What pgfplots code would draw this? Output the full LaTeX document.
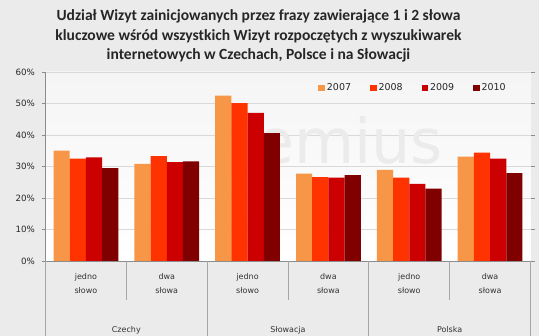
\documentclass[border=0pt]{standalone}
\usepackage{pgfplots}
\pgfplotsset{compat=1.18}
\usepackage{fontspec}
\setmainfont{Carlito}
\newfontfamily\tah{DejaVu Sans}
\definecolor{outerbg}{HTML}{EBEBEB}
\definecolor{gridc}{HTML}{D9D9D9}
\definecolor{axc}{HTML}{8C8C8C}
\definecolor{sepc}{HTML}{A6A6A6}
\definecolor{cA}{HTML}{F79646}
\definecolor{cB}{HTML}{FF3300}
\definecolor{cC}{HTML}{CC0000}
\definecolor{cD}{HTML}{800000}
\definecolor{wm}{HTML}{EBEBEB}
\pgfplotstableread{
x y2007 y2008 y2009 y2010
0 35.0 32.5 32.9 29.5
1 30.8 33.3 31.4 31.6
2 52.5 50.1 47.0 40.6
3 27.7 26.6 26.5 27.3
4 28.9 26.5 24.5 23.0
5 33.1 34.4 32.5 27.9
}\datatab
\begin{document}
\begin{tikzpicture}
\useasboundingbox (0,0) rectangle (539bp,336bp);
\fill[outerbg] (0,0) rectangle (539bp,336bp);
\node[align=center, font=\bfseries\fontsize{15.6}{19.6}\selectfont, text=black!85] at (258.5bp,300bp)
 {Udział Wizyt zainicjowanych przez frazy zawierające 1 i 2 słowa\\
  kluczowe wśród wszystkich Wizyt rozpoczętych z wyszukiwarek\\
  internetowych w Czechach, Polsce i na Słowacji};
\begin{axis}[
  at={(45.5bp,75bp)}, anchor=south west,
  scale only axis, width=485bp, height=189bp,
  xmin=-0.5, xmax=5.5, ymin=0, ymax=60,
  ybar=0pt, bar width=16.2bp,
  axis background/.style={top color=white!96!black, bottom color=white},
  axis line style={draw=none},
  ytick={0,10,...,60},
  yticklabel={\pgfmathprintnumber{\tick}\%},
  /pgf/number format/assume math mode=true,
  yticklabel style={font=\tah\fontsize{8.7}{10}\selectfont, text=black!85, xshift=-3bp},
  tick align=outside, major tick length=4bp,
  ytick style={draw=axc, line width=0.8bp},
  ymajorgrids, major grid style={draw=gridc, line width=0.9bp},
  xtick={0,...,5}, xtick style={draw=none},
  xticklabels={{jedno\\słowo},{dwa\\słowa},{jedno\\słowo},{dwa\\słowa},{jedno\\słowo},{dwa\\słowa}},
  xticklabel style={align=center, font=\tah\fontsize{8}{14}\selectfont, text=black!80, yshift=-5bp},
  clip=false,
  legend columns=4,
  legend style={at={(0.758,0.915)}, anchor=center, draw=none, fill=none,
    font=\tah\fontsize{9.5}{10}\selectfont, text=black!85,
    /tikz/every even column/.append style={column sep=17bp},
    inner sep=0pt},
  legend image code/.code={\fill[#1] (0bp,-3bp) rectangle (6.5bp,3.5bp);},
]
\node[font=\tah\fontsize{62}{62}\selectfont, text=wm] at (axis cs:3.02,36.5) {gemius};
\addplot[fill=cA, draw=none] table[x=x,y=y2007] {\datatab};
\addplot[fill=cB, draw=none] table[x=x,y=y2008] {\datatab};
\addplot[fill=cC, draw=none] table[x=x,y=y2009] {\datatab};
\addplot[fill=cD, draw=none] table[x=x,y=y2010] {\datatab};
\legend{2007,2008,2009,2010}
\draw[axc, line width=0.8bp] (rel axis cs:0,0) -- (rel axis cs:0,1);
\draw[axc, line width=0.8bp] (rel axis cs:0,0) -- (rel axis cs:1,0);
\pgfplotsinvokeforeach{0.5,2.5,4.5}{\draw[sepc, line width=0.8bp] (axis cs:#1,0) -- ([yshift=-39bp]axis cs:#1,0);}
\pgfplotsinvokeforeach{-0.5,1.5,3.5,5.5}{\draw[sepc, line width=0.8bp] (axis cs:#1,0) -- ([yshift=-75bp]axis cs:#1,0);}
\node[font=\tah\fontsize{8}{9}\selectfont, text=black!80] at ([yshift=-69bp]axis cs:0.5,0) {Czechy};
\node[font=\tah\fontsize{8}{9}\selectfont, text=black!80] at ([yshift=-69bp]axis cs:2.5,0) {Słowacja};
\node[font=\tah\fontsize{8}{9}\selectfont, text=black!80] at ([yshift=-69bp]axis cs:4.5,0) {Polska};
\end{axis}
\end{tikzpicture}
\end{document}
